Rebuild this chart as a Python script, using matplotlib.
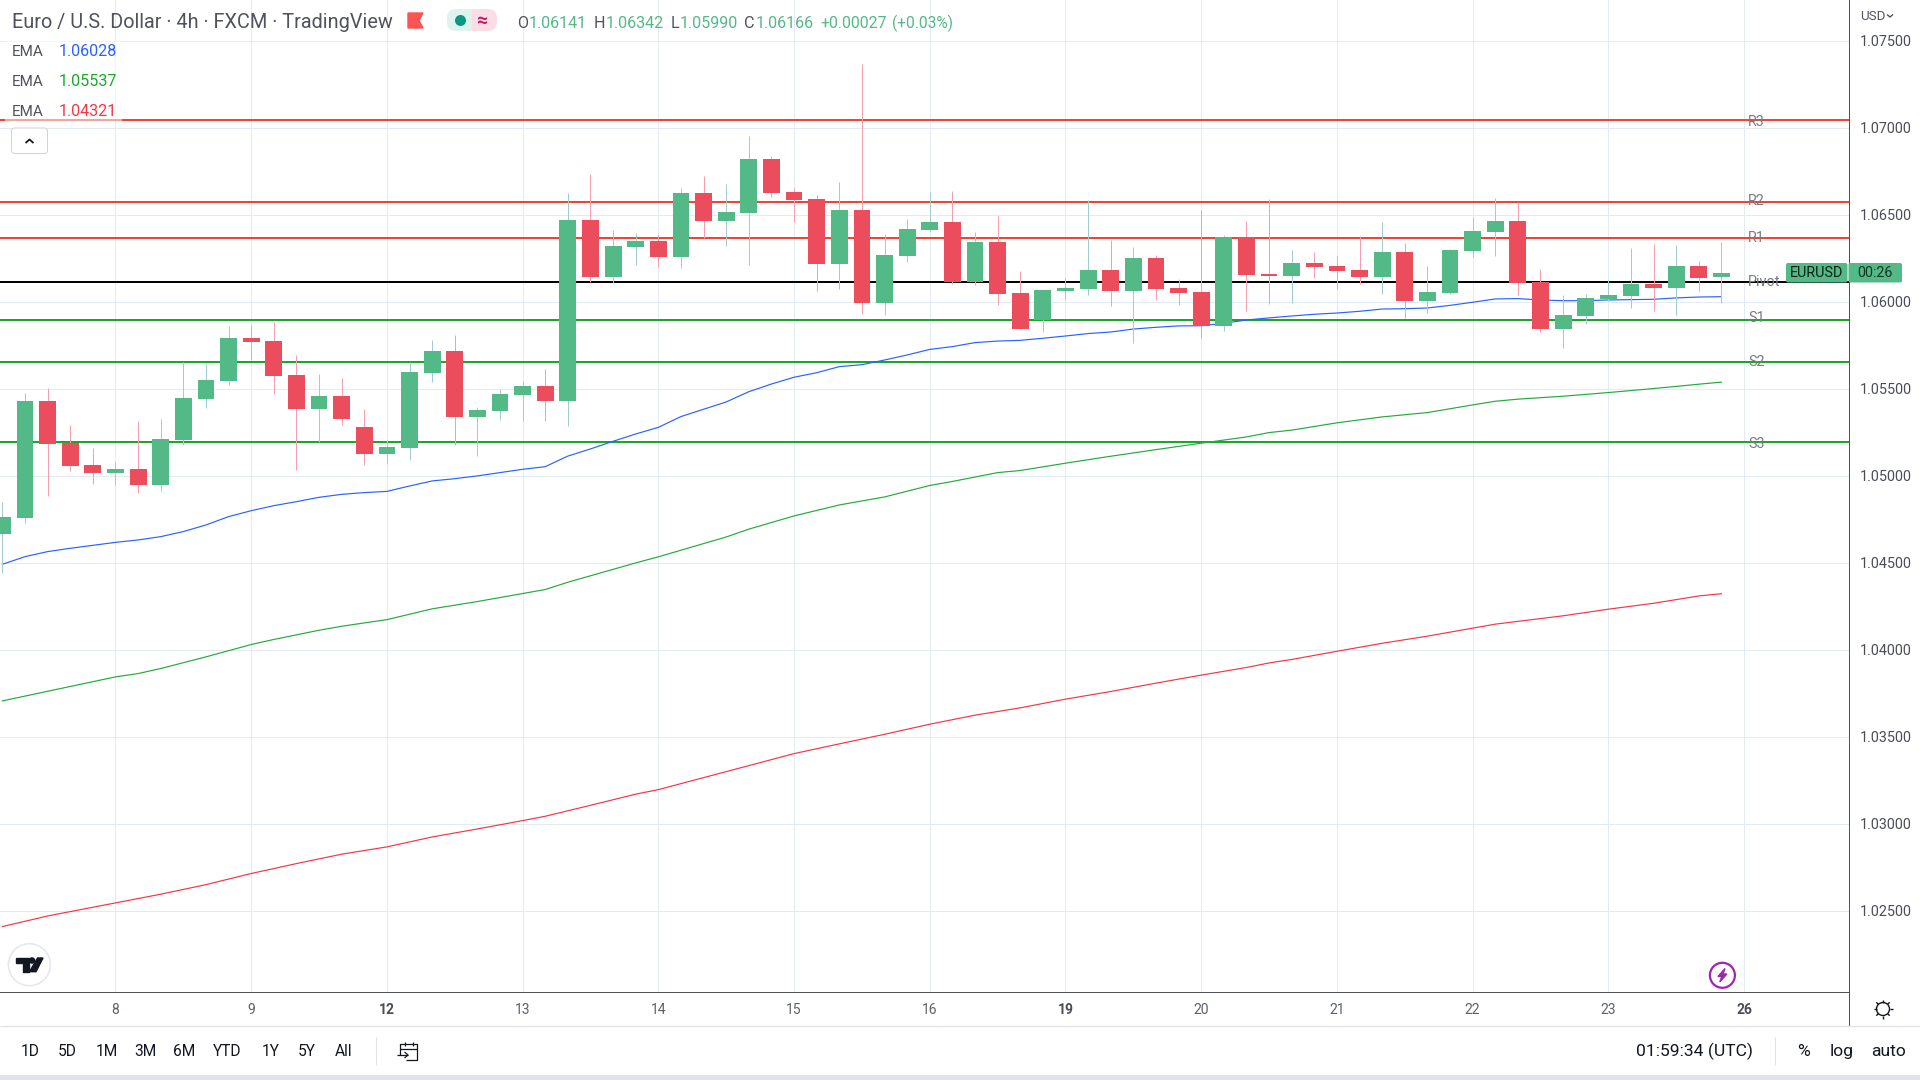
import matplotlib

matplotlib.use("Agg")
import matplotlib.pyplot as plt
from matplotlib.patches import Circle, FancyBboxPatch, Polygon, Rectangle

plt.rcParams["font.family"] = ["Roboto", "DejaVu Sans"]

opens = [
    1.04664, 1.04756, 1.05429, 1.05187, 1.05061, 1.05015, 1.05038, 1.04946, 1.05204, 1.05440,
    1.05544, 1.05791, 1.05773, 1.05578, 1.05383, 1.05457, 1.05279, 1.05124, 1.05158, 1.05590,
    1.05716, 1.05337, 1.05371, 1.05463, 1.05515, 1.05429, 1.06469, 1.06141, 1.06314, 1.06348,
    1.06256, 1.06624, 1.06463, 1.06509, 1.06819, 1.06630, 1.06589, 1.06216, 1.06526, 1.05992,
    1.06262, 1.06411, 1.06457, 1.06112, 1.06342, 1.06049, 1.05894, 1.06061, 1.06072, 1.06181,
    1.06061, 1.06250, 1.06078, 1.06055, 1.05860, 1.06371, 1.06158, 1.06147, 1.06222, 1.06204,
    1.06181, 1.06141, 1.06285, 1.06003, 1.06049, 1.06291, 1.06400, 1.06463, 1.06112, 1.05842,
    1.05917, 1.06015, 1.06032, 1.06101, 1.06078, 1.06204, 1.06141,
]
highs = [
    1.04848, 1.05475, 1.05503, 1.05291, 1.05158, 1.05078, 1.05314, 1.05325, 1.05653, 1.05641,
    1.05860, 1.05865, 1.05883, 1.05693, 1.05584, 1.05561, 1.05383, 1.05204, 1.05653, 1.05779,
    1.05808, 1.05394, 1.05498, 1.05544, 1.05613, 1.06624, 1.06733, 1.06411, 1.06394, 1.06388,
    1.06653, 1.06722, 1.06676, 1.06952, 1.06837, 1.06653, 1.06612, 1.06687, 1.07365, 1.06388,
    1.06475, 1.06630, 1.06635, 1.06400, 1.06492, 1.06176, 1.06067, 1.06135, 1.06584, 1.06354,
    1.06314, 1.06268, 1.06130, 1.06526, 1.06383, 1.06463, 1.06589, 1.06296, 1.06285, 1.06262,
    1.06377, 1.06457, 1.06337, 1.06204, 1.06302, 1.06486, 1.06595, 1.06572, 1.06187, 1.06038,
    1.06044, 1.06124, 1.06308, 1.06331, 1.06325, 1.06233, 1.06342,
]
lows = [
    1.04440, 1.04727, 1.04883, 1.05026, 1.04952, 1.04946, 1.04900, 1.04911, 1.05176, 1.05388,
    1.05521, 1.05664, 1.05469, 1.05032, 1.05193, 1.05291, 1.05061, 1.05067, 1.05090, 1.05538,
    1.05176, 1.05113, 1.05319, 1.05314, 1.05314, 1.05285, 1.06112, 1.06107, 1.06210, 1.06199,
    1.06193, 1.06365, 1.06319, 1.06210, 1.06601, 1.06457, 1.06061, 1.06072, 1.05929, 1.05923,
    1.06227, 1.06406, 1.06101, 1.06095, 1.05980, 1.05842, 1.05825, 1.06009, 1.06038, 1.05975,
    1.05762, 1.06009, 1.05980, 1.05791, 1.05831, 1.05946, 1.05986, 1.05992, 1.06135, 1.06072,
    1.06101, 1.06044, 1.05906, 1.05934, 1.06044, 1.06256, 1.06262, 1.06038, 1.05825, 1.05733,
    1.05871, 1.06003, 1.05963, 1.05946, 1.05923, 1.06061, 1.05990,
]
closes = [
    1.04762, 1.05429, 1.05181, 1.05055, 1.05015, 1.05038, 1.04946, 1.05210, 1.05446, 1.05549,
    1.05791, 1.05768, 1.05572, 1.05383, 1.05457, 1.05325, 1.05124, 1.05164, 1.05595, 1.05716,
    1.05337, 1.05377, 1.05469, 1.05515, 1.05429, 1.06469, 1.06141, 1.06319, 1.06348, 1.06256,
    1.06624, 1.06463, 1.06515, 1.06819, 1.06624, 1.06584, 1.06216, 1.06526, 1.05992, 1.06268,
    1.06417, 1.06457, 1.06112, 1.06342, 1.06044, 1.05842, 1.06067, 1.06078, 1.06181, 1.06061,
    1.06250, 1.06072, 1.06049, 1.05860, 1.06371, 1.06153, 1.06147, 1.06222, 1.06199, 1.06176,
    1.06141, 1.06285, 1.06003, 1.06055, 1.06296, 1.06406, 1.06463, 1.06107, 1.05842, 1.05923,
    1.06021, 1.06038, 1.06101, 1.06078, 1.06204, 1.06135, 1.06166,
]

ema_blue = [
    1.04490, 1.04534, 1.04563, 1.04582, 1.04599, 1.04616, 1.04630, 1.04649, 1.04678, 1.04716,
    1.04764, 1.04798, 1.04827, 1.04850, 1.04875, 1.04892, 1.04902, 1.04909, 1.04940, 1.04969,
    1.04982, 1.04998, 1.05017, 1.05036, 1.05051, 1.05112, 1.05153, 1.05197, 1.05239, 1.05277,
    1.05339, 1.05381, 1.05423, 1.05482, 1.05526, 1.05565, 1.05591, 1.05626, 1.05637, 1.05664,
    1.05693, 1.05725, 1.05741, 1.05764, 1.05773, 1.05777, 1.05789, 1.05802, 1.05816, 1.05825,
    1.05842, 1.05852, 1.05860, 1.05861, 1.05875, 1.05894, 1.05906, 1.05917, 1.05927, 1.05934,
    1.05944, 1.05957, 1.05959, 1.05963, 1.05978, 1.05996, 1.06015, 1.06017, 1.06009, 1.06005,
    1.06005, 1.06009, 1.06011, 1.06013, 1.06021, 1.06026, 1.06028,
]
ema_green_at = [
    0, 5, 6, 7, 9, 11, 12, 14, 15, 17, 19, 21, 23, 24, 25, 28, 29, 30, 32, 33, 35, 37, 39, 41,
    42, 44, 45, 47, 49, 51, 53, 55, 56, 57, 59, 61, 63, 65, 66, 67, 69, 71, 73, 75, 76,
]
ema_green = [
    1.03705, 1.03843, 1.03862, 1.03891, 1.03958, 1.04029, 1.04058, 1.04111, 1.04134, 1.04172,
    1.04234, 1.04276, 1.04322, 1.04345, 1.04387, 1.04498, 1.04533, 1.04571, 1.04647, 1.04692,
    1.04768, 1.04831, 1.04877, 1.04943, 1.04966, 1.05017, 1.05029, 1.05071, 1.05111, 1.05149,
    1.05186, 1.05222, 1.05247, 1.05261, 1.05303, 1.05337, 1.05362, 1.05406, 1.05427, 1.05439,
    1.05456, 1.05477, 1.05500, 1.05525, 1.05537,
]
ema_red_at = [
    0, 2, 5, 7, 9, 11, 13, 15, 17, 19, 21, 23, 24, 26, 28, 29, 31, 33, 35, 37, 39, 41, 43, 45,
    47, 49, 51, 53, 55, 56, 57, 59, 61, 63, 65, 66, 69, 71, 73, 75, 76,
]
ema_red = [
    1.02408, 1.02469, 1.02544, 1.02594, 1.02649, 1.02713, 1.02770, 1.02824, 1.02866, 1.02923,
    1.02969, 1.03017, 1.03042, 1.03105, 1.03169, 1.03195, 1.03264, 1.03333, 1.03402, 1.03458,
    1.03513, 1.03571, 1.03623, 1.03665, 1.03715, 1.03759, 1.03807, 1.03853, 1.03897, 1.03923,
    1.03943, 1.03990, 1.04036, 1.04077, 1.04123, 1.04146, 1.04194, 1.04232, 1.04266, 1.04308,
    1.04321,
]

level_names = ["R3", "R2", "R1", "Pivot", "S1", "S2", "S3"]
level_values = [1.07044, 1.06572, 1.06365, 1.06112, 1.05894, 1.05653, 1.05193]
level_colors = ["#f44336", "#f44336", "#f44336", "#000000", "#1aa82a", "#1aa82a", "#1aa82a"]

price_ticks = [1.025, 1.03, 1.035, 1.04, 1.045, 1.05, 1.055, 1.06, 1.065, 1.07, 1.075]
day_ticks = [5, 11, 17, 23, 29, 35, 41, 47, 53, 59, 65, 71, 77]
day_labels = ["8", "9", "12", "13", "14", "15", "16", "19", "20", "21", "22", "23", "26"]
week_starts = ["12", "19", "26"]

range_buttons = ["1D", "5D", "1M", "3M", "6M", "YTD", "1Y", "5Y", "All"]
range_button_x = [30, 67, 106.5, 145, 183.7, 227, 271, 307, 344]

UP = "#53b987"
DOWN = "#eb4d5c"
UP_WICK = "#a3ccce"
DOWN_WICK = "#f5a0ac"
GRID = "#e2ebf1"
AXIS = "#50535e"
INK = "#131722"
PIXEL = 72 / 100

fig = plt.figure(figsize=(19.2, 10.8), dpi=100, facecolor="white")
ax = fig.add_axes([0, 1 - 992 / 1080, 1849 / 1920, 992 / 1080])
ax.set_xlim(-0.106, 81.64)
ax.set_ylim(1.02032, 1.07733)

ax.set_axisbelow(True)
ax.grid(True, color=GRID, linewidth=PIXEL)
ax.yaxis.tick_right()
ax.set_yticks(price_ticks, [f"{p:.5f}" for p in price_ticks])
ax.set_xticks(day_ticks, day_labels)
ax.tick_params(axis="y", length=0, pad=8, labelsize=10.4, labelcolor="#4a4d57")
ax.tick_params(axis="x", length=0, pad=8, labelsize=10, labelcolor="#5d606b")
for tick_label in ax.get_xticklabels():
    if tick_label.get_text() in week_starts:
        tick_label.set_fontweight("bold")
        tick_label.set_color("#4a4d57")
for side in ["top", "left"]:
    ax.spines[side].set_visible(False)
ax.spines["bottom"].set_color(AXIS)
ax.spines["right"].set_color(AXIS)
ax.spines["bottom"].set_linewidth(PIXEL)
ax.spines["right"].set_linewidth(PIXEL)

for value, color in zip(level_values, level_colors):
    ax.axhline(value, color=color, linewidth=PIXEL * 2, zorder=2)

ax.plot(range(len(ema_blue)), ema_blue, color="#2962ff", linewidth=0.85, zorder=3)
ax.plot(ema_green_at, ema_green, color="#22ab3c", linewidth=0.85, zorder=3)
ax.plot(ema_red_at, ema_red, color="#f23645", linewidth=0.85, zorder=3)

index = range(len(opens))
up = [c >= o for o, c in zip(opens, closes)]
wick_colors = [UP_WICK if u else DOWN_WICK for u in up]
body_colors = [UP if u else DOWN for u in up]
ax.vlines(index, lows, highs, colors=wick_colors, linewidth=PIXEL, zorder=4)
ax.bar(
    index,
    [abs(c - o) for o, c in zip(opens, closes)],
    bottom=[min(o, c) for o, c in zip(opens, closes)],
    width=0.743,
    color=body_colors,
    linewidth=0,
    zorder=5,
)

# everything around the plot is interface chrome, placed in screen pixels
ui = fig.add_axes([0, 0, 1, 1], zorder=10)
ui.set_xlim(0, 1920)
ui.set_ylim(1080, 0)
ui.axis("off")
ui.patch.set_alpha(0)


def label(x, y, text, size=10.4, color=INK, ha="left", **kwargs):
    ui.text(x, y + 1.5, text, fontsize=size, color=color, ha=ha, va="center", **kwargs)


def box(x0, y0, x1, y1, color, radius=0, edge="none", z=2):
    if radius:
        patch = FancyBboxPatch(
            (x0 + radius, y0 + radius),
            x1 - x0 - 2 * radius,
            y1 - y0 - 2 * radius,
            boxstyle=f"round,pad={radius}",
            facecolor=color,
            edgecolor=edge,
            linewidth=PIXEL,
            zorder=z,
        )
    else:
        patch = Rectangle((x0, y0), x1 - x0, y1 - y0, facecolor=color, edgecolor=edge, zorder=z)
    ui.add_patch(patch)


def stroke(xs, ys, color=INK, width=1.0, z=3):
    ui.plot(xs, ys, color=color, linewidth=width, zorder=z, solid_capstyle="butt")


# header
label(12, 21, "Euro / U.S. Dollar · 4h · FXCM · TradingView", size=14.3, color="#50535e")
ui.add_patch(Polygon([(408, 13), (423, 13), (419, 20.5), (423, 28), (408, 28)], color="#ff5252"))
box(447, 9, 472, 31, "#dff3ee", radius=9)
box(472, 9, 497, 31, "#fcdde5", radius=9)
box(466, 9, 472, 31, "#dff3ee")
box(472, 9, 478, 31, "#fcdde5")
ui.add_patch(Circle((460.5, 20.5), 4.8, color="#089981", zorder=3))
label(483, 19, "≈", size=14, color="#c2185b", ha="center", fontweight="bold")

label(517, 21.5, "O", size=11.6, color="#50535e")
label(529, 21.5, "1.06141", size=11.6, color=UP)
label(594, 21.5, "H", size=11.6, color="#50535e")
label(606, 21.5, "1.06342", size=11.6, color=UP)
label(670.5, 21.5, "L", size=11.6, color="#50535e")
label(679.5, 21.5, "1.05990", size=11.6, color=UP)
label(744, 21.5, "C", size=11.6, color="#50535e")
label(755.5, 21.5, "1.06166", size=11.6, color=UP)
label(820, 21.5, "+0.00027", size=11.4, color=UP)
label(892, 21.5, "(+0.03%)", size=11.2, color=UP)

# EMA legend with its translucent backing
box(5, 41, 122, 121, "#ffffff", z=1)
ui.patches[-1].set_alpha(0.5)
label(12, 50.5, "EMA", size=11, color="#50535e")
label(59, 50.5, "1.06028", size=11.6, color="#2962ff")
label(12, 80.5, "EMA", size=11, color="#50535e")
label(59, 80.5, "1.05537", size=11.6, color="#1aa82a")
label(12, 110.5, "EMA", size=11, color="#50535e")
label(59, 110.5, "1.04321", size=11.6, color="#f23645")
box(11.5, 128, 47.5, 153.5, "#ffffff", radius=3, edge="#d1d4dc")
stroke([25.5, 29.5, 33.5], [143, 139.5, 143], color=INK, width=1.3)

# pivot names at the end of their lines
for name, y in zip(level_names, [120.7, 199.7, 236.7, 280, 316.7, 361, 442]):
    label(1748, y, name, size=10.4, color="#787b86")

# last price tag
box(1786, 263, 1847.5, 282.5, UP, radius=2)
box(1848.5, 263, 1902, 282.5, UP, radius=2)
label(1816.5, 271.5, "EURUSD", size=10.4, color="#0c1f16", ha="center")
label(1875, 271.5, "00:26", size=10.4, color="#133526", ha="center")

# price axis header
label(1860, 15.5, "USD", size=9.6, color="#50535e")
stroke([1887, 1890, 1893], [14.5, 17, 14.5], color="#50535e", width=1.0)

# time axis and bottom toolbar
stroke([1849, 1849], [992, 1026], color=AXIS, width=PIXEL)
stroke([0, 1920], [1026.3, 1026.3], color="#e0e3eb", width=PIXEL * 1.4)
box(0, 1075, 1920, 1080, "#e0e3eb")
for name, x in zip(range_buttons, range_button_x):
    label(x, 1050, name, size=11.2, ha="center")
stroke([375.5, 375.5], [1036.5, 1065], color="#e0e3eb", width=PIXEL)
stroke([1774.7, 1774.7], [1036.5, 1065], color="#e0e3eb", width=PIXEL)
label(1636, 1050, "01:59:34 (UTC)", size=12.6)
label(1803.7, 1050, "%", size=12.6, ha="center")
label(1842, 1050, "log", size=12.6, ha="center")
label(1888.6, 1050, "auto", size=12.6, ha="center")

# calendar icon
stroke([400, 400, 417, 417, 406], [1055, 1044, 1044, 1059.5, 1059.5], width=0.9)
stroke([400, 417], [1048.5, 1048.5], width=0.9)
stroke([404.5, 404.5], [1041.5, 1046], width=0.9)
stroke([412.5, 412.5], [1041.5, 1046], width=0.9)
stroke([397, 408], [1055, 1055], width=0.9)
stroke([404.5, 408, 404.5], [1052, 1055, 1058], width=0.9)

# settings gear
ui.add_patch(Circle((1883, 1009), 6.5, facecolor="white", edgecolor=INK, linewidth=1.0, zorder=3))
for xs, ys in [
    ([1883, 1883], [999.5, 1002.5]),
    ([1883, 1883], [1015.5, 1018.5]),
    ([1873.5, 1876.5], [1009, 1009]),
    ([1889.5, 1892.5], [1009, 1009]),
    ([1876.3, 1878.4], [1002.3, 1004.4]),
    ([1887.6, 1889.7], [1013.6, 1015.7]),
    ([1876.3, 1878.4], [1015.7, 1013.6]),
    ([1887.6, 1889.7], [1004.4, 1002.3]),
]:
    stroke(xs, ys, width=1.0)

# TradingView badge
ui.add_patch(Circle((29.4, 964.7), 21, facecolor="white", edgecolor="#e6e8ee", linewidth=1.2, zorder=2))
ui.add_patch(Polygon(
    [(15.5, 958), (28.5, 958), (28.5, 971.7), (22.5, 971.7), (22.5, 963), (15.5, 963)],
    color="#131722", zorder=3,
))
ui.add_patch(Circle((32, 960.5), 2.6, color="#131722", zorder=3))
ui.add_patch(Polygon([(37.5, 958), (43, 958), (36, 971.7), (29.5, 971.7)], color="#131722", zorder=3))

# lightning badge on the last bar
ui.add_patch(Circle((1722.4, 975.3), 12.5, facecolor="white", edgecolor="#9c27b0", linewidth=1.6, zorder=3))
ui.add_patch(Polygon(
    [(1725, 968.5), (1718, 976.5), (1721.8, 976.5), (1719.8, 982), (1726.8, 974), (1723, 974)],
    color="#9c27b0", zorder=4,
))

fig.savefig("out.png", dpi=100, facecolor="white")
